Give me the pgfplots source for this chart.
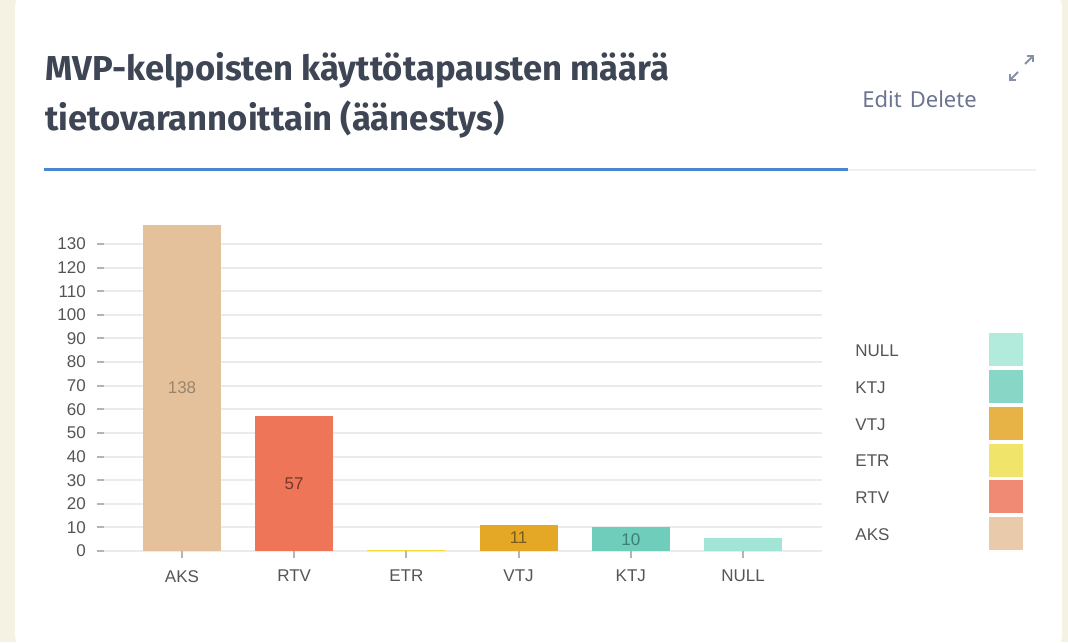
\documentclass[border=0pt]{standalone}
\usepackage{pgfplots}
\pgfplotsset{compat=1.18}
\usepackage{fontspec}
\setmainfont{Liberation Sans}
\newfontfamily\titlefont{Fira Sans}
\newfontfamily\linkfont{Noto Sans}
\usetikzlibrary{arrows.meta}
\definecolor{bgcream}{HTML}{F5F2E3}
\definecolor{titlecol}{HTML}{3E4554}
\definecolor{linkcol}{HTML}{6C7590}
\definecolor{bluel}{HTML}{4A87D2}
\definecolor{grayl}{HTML}{EDF1F6}
\definecolor{gridc}{HTML}{EBEBEB}
\definecolor{tickc}{HTML}{B4B4B4}
\definecolor{labc}{HTML}{555555}
\definecolor{iconc}{HTML}{8690A6}
% bar colours
\definecolor{bAKS}{HTML}{E4C19B}
\definecolor{bRTV}{HTML}{EE7558}
\definecolor{bETR}{HTML}{F2DC3A}
\definecolor{bVTJ}{HTML}{E4A726}
\definecolor{bKTJ}{HTML}{6ECDBB}
\definecolor{bNULL}{HTML}{A2E5D6}
% legend colours
\definecolor{lAKS}{HTML}{E9CBAC}
\definecolor{lRTV}{HTML}{F08A74}
\definecolor{lETR}{HTML}{F0E46A}
\definecolor{lVTJ}{HTML}{E8B346}
\definecolor{lKTJ}{HTML}{88D6C6}
\definecolor{lNULL}{HTML}{B2EADB}
% value label colours
\definecolor{tAKS}{HTML}{9B8569}
\definecolor{tRTV}{HTML}{74392B}
\definecolor{tVTJ}{HTML}{7A5B20}
\definecolor{tKTJ}{HTML}{3D7F73}
\begin{document}
\begin{tikzpicture}[x=0.5pt,y=0.5pt]
\useasboundingbox (0,0) rectangle (1068,642);
% background and card (coordinates: x, 642-y of the reference pixels)
\fill[bgcream] (0,0) rectangle (1068,642);
\begin{scope}
\clip (0,0) rectangle (1068,642);
\fill[white, rounded corners=6pt] (15,-6) rectangle (1062,648);
\end{scope}
% title
\node[anchor=base west, inner sep=0pt, font=\titlefont\bfseries\fontsize{17.3pt}{20pt}\selectfont, text=titlecol] at (45,{642-81}) {MVP-kelpoisten käyttötapausten määrä};
\node[anchor=base west, inner sep=0pt, font=\titlefont\bfseries\fontsize{17.3pt}{20pt}\selectfont, text=titlecol] at (45,{642-131}) {tietovarannoittain (äänestys)};
\node[anchor=base west, inner sep=0pt, font=\linkfont\fontsize{11pt}{13pt}\selectfont, text=linkcol] at (862,{642-108}) {Edit\hspace{4pt}Delete};
% expand icon
\draw[iconc, line width=0.9pt, -{Straight Barb[length=2.2pt,width=4.4pt]}] (1025,{642-64}) -- (1034,{642-55});
\draw[iconc, line width=0.9pt, -{Straight Barb[length=2.2pt,width=4.4pt]}] (1018,{642-72}) -- (1009,{642-81});
% underline
\draw[grayl, line width=1pt] (848,{642-170}) -- (1036,{642-170});
\draw[bluel, line width=1.5pt] (44,{642-170}) -- (848,{642-170});
% chart
\begin{axis}[
  at={(52pt,45.5pt)}, anchor=south west,
  scale only axis, width=359pt, height=165.3pt,
  xmin=-0.695, xmax=5.704, ymin=0, ymax=140,
  xtick={0,1,2,3,4,5},
  xticklabels={AKS,RTV,ETR,VTJ,KTJ,NULL},
  ytick={0,10,...,130},
  xtick pos=bottom, ytick pos=left,
  ymajorgrids, major grid style={gridc, line width=1pt},
  axis line style={draw=none},
  tick align=outside,
  major tick length=3.6pt,
  every tick/.style={tickc, line width=1pt},
  /pgf/number format/assume math mode=true,
  tick label style={font=\fontsize{8.5pt}{10pt}\selectfont, text=labc},
  yticklabel style={xshift=-2pt},
  xticklabel style={yshift=-2.5pt},
  clip=false,
]
\addplot[ybar, bar shift=0pt, bar width=39pt, fill=bAKS, draw=none,
  nodes near coords, visualization depends on={rawy \as \myy},
  every node near coord/.append style={anchor=center, yshift=-0.5904*\myy pt, font=\fontsize{8.5pt}{10pt}\selectfont, text=tAKS}]
  coordinates {(0,138)};
\addplot[ybar, bar shift=0pt, bar width=39pt, fill=bRTV, draw=none,
  nodes near coords, visualization depends on={rawy \as \myy},
  every node near coord/.append style={anchor=center, yshift=-0.5904*\myy pt, font=\fontsize{8.5pt}{10pt}\selectfont, text=tRTV}]
  coordinates {(1,57)};
\addplot[ybar, bar shift=0pt, bar width=39pt, fill=bETR, draw=none]
  coordinates {(2,0.5)};
\addplot[ybar, bar shift=0pt, bar width=39pt, fill=bVTJ, draw=none,
  nodes near coords, visualization depends on={rawy \as \myy},
  every node near coord/.append style={anchor=center, yshift=-0.5904*\myy pt, font=\fontsize{8.5pt}{10pt}\selectfont, text=tVTJ}]
  coordinates {(3,11)};
\addplot[ybar, bar shift=0pt, bar width=39pt, fill=bKTJ, draw=none,
  nodes near coords, visualization depends on={rawy \as \myy},
  every node near coord/.append style={anchor=center, yshift=-0.5904*\myy pt, font=\fontsize{8.5pt}{10pt}\selectfont, text=tKTJ}]
  coordinates {(4,10)};
\addplot[ybar, bar shift=0pt, bar width=39pt, fill=bNULL, draw=none]
  coordinates {(5,5.5)};
\end{axis}
% legend
\foreach \lab/\col [count=\i from 0] in {NULL/lNULL,KTJ/lKTJ,VTJ/lVTJ,ETR/lETR,RTV/lRTV,AKS/lAKS}{
  \fill[\col] (989,{642-333.5-36.7*\i}) rectangle (1022.5,{642-366.5-36.7*\i});
  \node[anchor=west, inner sep=0pt, font=\fontsize{8.5pt}{10pt}\selectfont, text=labc] at (855,{642-351-36.7*\i}) {\lab};
}
\end{tikzpicture}
\end{document}
